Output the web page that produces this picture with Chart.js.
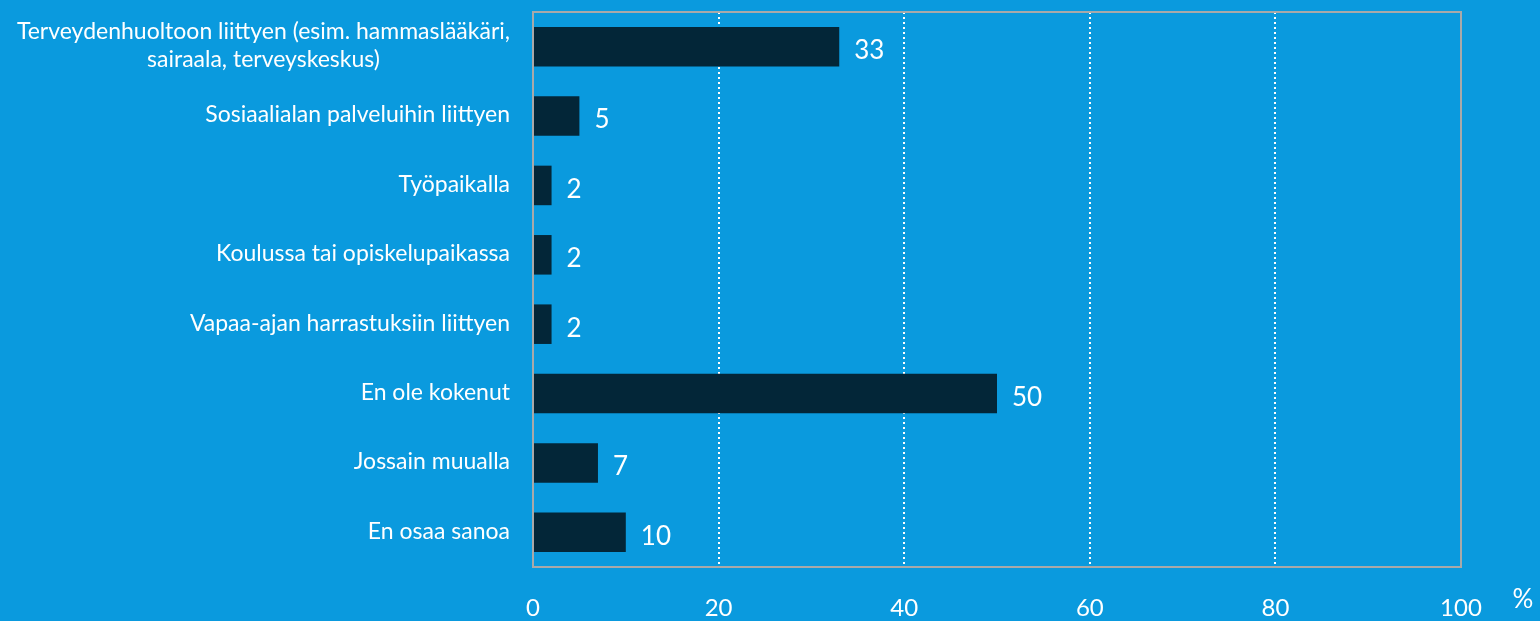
<!DOCTYPE html>
<html><head><meta charset="utf-8">
<script src="https://cdn.jsdelivr.net/npm/chart.js@4/dist/chart.umd.min.js"></script>
<style>html,body{margin:0;padding:0;background:#0a9ade;}#wrap{width:1540px;height:621px;}</style>
</head><body><div id="wrap"><canvas id="c" width="1540" height="621"></canvas></div>
<script>
const categories = [
  ['Terveydenhuoltoon liittyen (esim. hammaslääkäri,', 'sairaala, terveyskeskus)'],
  'Sosiaalialan palveluihin liittyen',
  'Työpaikalla',
  'Koulussa tai opiskelupaikassa',
  'Vapaa-ajan harrastuksiin liittyen',
  'En ole kokenut',
  'Jossain muualla',
  'En osaa sanoa'
];
const values = [33, 5, 2, 2, 2, 50, 7, 10];
const xTicks = [0, 20, 40, 60, 80, 100];
const unitLabel = '%';

const FONT = 'Lato, "Open Sans", sans-serif';

const decor = {
  id: 'decor',
  afterDatasetsDraw(chart) {
    const {ctx, chartArea: a, scales: {x, y}} = chart;
    ctx.save();
    // frame
    ctx.strokeStyle = '#a9a9a9';
    ctx.lineWidth = 2;
    ctx.strokeRect(a.left, a.top, a.right - a.left, a.bottom - a.top);
    // value labels
    ctx.fillStyle = '#ffffff';
    ctx.font = '26px ' + FONT;
    ctx.textBaseline = 'middle';
    ctx.textAlign = 'left';
    const meta = chart.getDatasetMeta(0);
    meta.data.forEach((bar, i) => {
      ctx.fillText(String(values[i]), bar.x + 15, bar.y + 4);
    });
    // category labels
    ctx.font = '23px ' + FONT;
    const rightX = a.left - 23;
    categories.forEach((lab, i) => {
      const cy = y.getPixelForValue(i);
      const lines = Array.isArray(lab) ? lab : [lab];
      const widths = lines.map(l => ctx.measureText(l).width);
      const maxW = Math.max(...widths);
      const lh = 28;
      const startY = cy - (lines.length - 1) * lh / 2;
      ctx.textAlign = 'center';
      lines.forEach((l, k) => {
        ctx.fillText(l, rightX - maxW / 2, startY + k * lh - 1);
      });
    });
    // unit
    ctx.font = '26px ' + FONT;
    ctx.textAlign = 'center';
    ctx.fillText(unitLabel, 1523, 600);
    ctx.restore();
  }
};

new Chart(document.getElementById('c'), {
  type: 'bar',
  data: {
    labels: categories,
    datasets: [{
      data: values,
      backgroundColor: '#032638',
      borderWidth: 0,
      categoryPercentage: 0.57,
      barPercentage: 1.0
    }]
  },
  options: {
    indexAxis: 'y',
    responsive: false,
    animation: false,
    layout: {padding: {top: 12, right: 79, bottom: 0, left: 0}},
    plugins: {legend: {display: false}, tooltip: {enabled: false}},
    scales: {
      x: {
        min: 0, max: 100,
        afterBuildTicks: s => { s.ticks = xTicks.map(v => ({value: v})); },
        ticks: {color: '#ffffff', font: {family: FONT, size: 24}, padding: 27, maxRotation: 0},
        grid: {
          drawTicks: false,
          color: ctx => (ctx.tick && ctx.tick.value > 0 && ctx.tick.value < 100) ? '#ffffff' : 'rgba(0,0,0,0)',
          lineWidth: 2
        },
        border: {display: false, dash: [2, 3]},
        afterFit: s => { s.height = 54; }
      },
      y: {
        ticks: {display: false},
        grid: {display: false, drawTicks: false},
        border: {display: false},
        afterFit: s => { s.width = 533; }
      }
    }
  },
  plugins: [decor]
});
</script>
</body></html>
